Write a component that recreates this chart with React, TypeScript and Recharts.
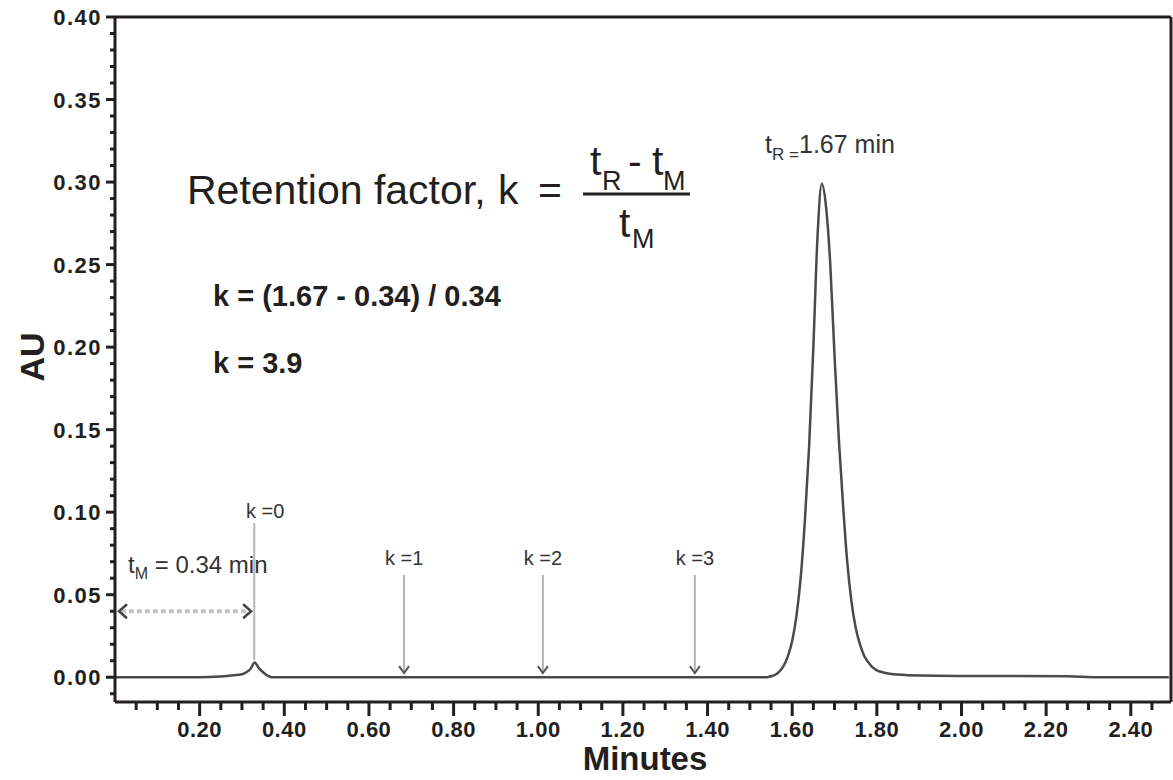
import { LineChart, Line, XAxis, YAxis, ReferenceLine, ReferenceDot } from 'recharts';

// chromatogram trace (minutes, AU)
const TIME = [
  0, 0.1, 0.2, 0.25, 0.28, 0.3, 0.31, 0.32, 0.33, 0.34, 0.35, 0.36, 0.37,
  0.6, 1.0, 1.4, 1.5, 1.54, 1.55, 1.56, 1.57, 1.58, 1.59, 1.6, 1.61, 1.62,
  1.63, 1.64, 1.65, 1.66, 1.67, 1.68, 1.69, 1.7, 1.71, 1.72, 1.73, 1.74,
  1.75, 1.76, 1.77, 1.78, 1.79, 1.8, 1.82, 1.85, 1.9, 2.0, 2.25, 2.32, 2.49,
];
const ABS = [
  0, 0, 0, 0.0005, 0.0012, 0.0018, 0.003, 0.005, 0.009, 0.0055, 0.003, 0.001, 0,
  0, 0, 0, 0, 0, 0.0006, 0.0015, 0.0035, 0.007, 0.013, 0.022, 0.037, 0.06,
  0.095, 0.14, 0.2, 0.268, 0.299, 0.285, 0.25, 0.195, 0.145, 0.105, 0.07, 0.046,
  0.03, 0.02, 0.013, 0.009, 0.006, 0.0042, 0.0026, 0.0016, 0.001, 0.0008, 0.0006, 0, 0,
];

const X_MAJOR = [0.2, 0.4, 0.6, 0.8, 1.0, 1.2, 1.4, 1.6, 1.8, 2.0, 2.2, 2.4];
const X_LABELS = ['0.20', '0.40', '0.60', '0.80', '1.00', '1.20', '1.40', '1.60', '1.80', '2.00', '2.20', '2.40'];
const Y_MAJOR = [0, 0.05, 0.1, 0.15, 0.2, 0.25, 0.3, 0.35, 0.4];
const Y_LABELS = ['0.00', '0.05', '0.10', '0.15', '0.20', '0.25', '0.30', '0.35', '0.40'];

// minor ticks every 0.05 min / 0.01 AU
const X_TICKS = Array.from({ length: 49 }, (_, i) => +((i + 1) * 0.05).toFixed(2));
const Y_TICKS = Array.from({ length: 42 }, (_, i) => +(i * 0.01 - 0.01).toFixed(2));

const X_MAX = 2.495;
const Y_MIN = -0.015;
const Y_MAX = 0.4;

// k markers: time, top of line, bottom of line
const K_LABELS = ['k =0', 'k =1', 'k =2', 'k =3'];
const K_TIME = [0.329, 0.683, 1.011, 1.37];
const K_TOP = [0.0934, 0.062, 0.062, 0.062];
const K_BOTTOM = [0.0105, 0.0025, 0.0025, 0.0025];

const TM_ARROW = [0.007, 0.324];
const TM_ARROW_Y = 0.04;
const TM_LABEL = { x: 0.031, y: 0.063 };
const TR_LABEL = { x: 1.536, y: 0.3176 };

const FONT = '"Liberation Sans", Arial, Helvetica, sans-serif';
const INK = '#231f20';
const NOTE = '#333333';

const data = TIME.map((t, i) => ({ t, au: ABS[i] }));

const near = (a: number, b: number) => Math.abs(a - b) < 1e-6;

function XTick(props: any) {
  const { x, y, payload } = props;
  const i = X_MAJOR.findIndex((m) => near(m, payload.value));
  const major = i >= 0;
  return (
    <g>
      <line x1={x} x2={x} y1={y} y2={y + (major ? 14 : 8)} stroke={INK} strokeWidth={3} />
      {major && (
        <text x={x} y={y + 35} textAnchor="middle" fontFamily={FONT} fontWeight="bold" fontSize={22} letterSpacing={0.5} fill={INK}>
          {X_LABELS[i]}
        </text>
      )}
    </g>
  );
}

function YTick(props: any) {
  const { x, y, payload } = props;
  const i = Y_MAJOR.findIndex((m) => near(m, payload.value));
  const major = i >= 0;
  return (
    <g>
      <line x1={x} x2={x - (major ? 9 : 5)} y1={y} y2={y} stroke={INK} strokeWidth={3} />
      {major && (
        <text x={x - 13} y={y + 8} textAnchor="end" fontFamily={FONT} fontWeight="bold" fontSize={22} letterSpacing={1.5} fill={INK}>
          {Y_LABELS[i]}
        </text>
      )}
    </g>
  );
}

const kArrow = (idx: number) => (p: any) => {
  const { x1, y1, x2, y2 } = p;
  const first = idx === 0;
  return (
    <g>
      <line x1={x1} y1={y1} x2={x2} y2={y2} stroke="#b5b5b5" strokeWidth={2} />
      {!first && (
        <polyline
          points={`${x2 - 5},${y2 - 7} ${x2},${y2} ${x2 + 5},${y2 - 7}`}
          fill="none"
          stroke="#555"
          strokeWidth={2}
        />
      )}
      <text
        x={x1 + (first ? 11 : 0)}
        y={y1 - (first ? 5 : 10)}
        textAnchor="middle"
        fontFamily={FONT}
        fontSize={20}
        fill={NOTE}
      >
        {K_LABELS[idx]}
      </text>
    </g>
  );
};

const dottedArrow = (p: any) => {
  const { x1, y1, x2, y2 } = p;
  return (
    <g>
      <line x1={x1 + 3} y1={y1} x2={x2 - 3} y2={y2} stroke="#c4c4c4" strokeWidth={4} strokeDasharray="5 3" />
      <polyline points={`${x1 + 9},${y1 - 7} ${x1 + 1},${y1} ${x1 + 9},${y1 + 7}`} fill="none" stroke="#444" strokeWidth={2.5} />
      <polyline points={`${x2 - 9},${y2 - 7} ${x2 - 1},${y2} ${x2 - 9},${y2 + 7}`} fill="none" stroke="#444" strokeWidth={2.5} />
    </g>
  );
};

const tmLabel = (p: any) => (
  <text x={p.cx} y={p.cy} fontFamily={FONT} fontSize={24} fill={NOTE}>
    t<tspan fontSize={16} dy={6}>M</tspan>
    <tspan dy={-6}> = 0.34 min</tspan>
  </text>
);

const trLabel = (p: any) => (
  <text x={p.cx} y={p.cy} fontFamily={FONT} fontSize={25} fill={NOTE}>
    t<tspan fontSize={17} dy={7}>R =</tspan>
    <tspan dy={-7}>1.67 min</tspan>
  </text>
);

function Overlay() {
  return (
    <svg
      width={1173}
      height={780}
      style={{ position: 'absolute', left: 0, top: 0, pointerEvents: 'none' }}
      fontFamily={FONT}
      fill={INK}
    >
      <text x={187} y={204} fontSize={41}>Retention factor,</text>
      <text x={498} y={204} fontSize={41}>k</text>
      <text x={538} y={204} fontSize={41}>=</text>
      <text x={590} y={175} fontSize={41}>t</text>
      <text x={602} y={190} fontSize={27}>R</text>
      <text x={628} y={175} fontSize={41}>-</text>
      <text x={652} y={175} fontSize={41}>t</text>
      <text x={663} y={190} fontSize={27}>M</text>
      <line x1={583} x2={690} y1={194} y2={194} stroke={INK} strokeWidth={3} />
      <text x={619} y={237} fontSize={41}>t</text>
      <text x={632} y={248} fontSize={27}>M</text>

      <text x={213} y={306} fontSize={29} fontWeight="bold">k = (1.67 - 0.34) / 0.34</text>
      <text x={213} y={373} fontSize={29} fontWeight="bold">k = 3.9</text>

      <text transform="translate(44,357) rotate(-90)" textAnchor="middle" fontSize={34} fontWeight="bold">AU</text>
      <text x={645} y={770} textAnchor="middle" fontSize={33} fontWeight="bold">Minutes</text>
    </svg>
  );
}

export default function App() {
  return (
    <div style={{ position: 'absolute', left: 0, top: 0, width: 1173, height: 780, background: '#fff' }}>
      <LineChart width={1173} height={780} data={data} margin={{ top: 17, right: 2, bottom: 0, left: 0 }}>
        <XAxis
          dataKey="t"
          type="number"
          domain={[0, X_MAX]}
          ticks={X_TICKS}
          interval={0}
          height={78}
          tickSize={0}
          tickMargin={0}
          tickLine={false}
          tick={<XTick />}
          axisLine={{ stroke: INK, strokeWidth: 3 }}
        />
        <YAxis
          type="number"
          domain={[Y_MIN, Y_MAX]}
          ticks={Y_TICKS}
          interval={0}
          width={115}
          tickSize={0}
          tickMargin={0}
          tickLine={false}
          tick={<YTick />}
          axisLine={{ stroke: INK, strokeWidth: 3 }}
          allowDataOverflow
        />
        <ReferenceLine y={Y_MAX} stroke={INK} strokeWidth={3} />
        <ReferenceLine x={X_MAX} stroke={INK} strokeWidth={3} />
        {K_TIME.map((t, i) => (
          <ReferenceLine
            key={K_LABELS[i]}
            segment={[{ x: t, y: K_TOP[i] }, { x: t, y: K_BOTTOM[i] }]}
            shape={kArrow(i)}
          />
        ))}
        <ReferenceLine
          segment={[{ x: TM_ARROW[0], y: TM_ARROW_Y }, { x: TM_ARROW[1], y: TM_ARROW_Y }]}
          shape={dottedArrow}
        />
        <ReferenceDot x={TM_LABEL.x} y={TM_LABEL.y} r={0} shape={tmLabel} />
        <ReferenceDot x={TR_LABEL.x} y={TR_LABEL.y} r={0} shape={trLabel} />
        <Line
          type="monotone"
          dataKey="au"
          stroke="#4a4a4a"
          strokeWidth={2.5}
          dot={false}
          isAnimationActive={false}
        />
      </LineChart>
      <Overlay />
    </div>
  );
}
